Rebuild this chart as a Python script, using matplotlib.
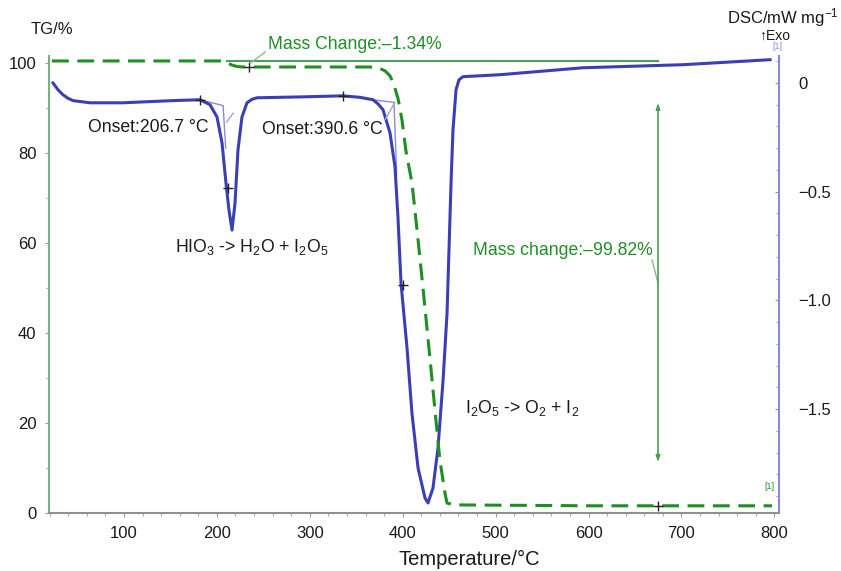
import numpy as np
import matplotlib
matplotlib.use('Agg')
import matplotlib.pyplot as plt
from matplotlib.ticker import MultipleLocator

plt.rcParams['font.family'] = ['Liberation Sans', 'DejaVu Sans']
plt.rcParams['mathtext.fontset'] = 'custom'
plt.rcParams['mathtext.rm'] = 'Liberation Sans'
plt.rcParams['mathtext.it'] = 'Liberation Sans:italic'
plt.rcParams['mathtext.bf'] = 'Liberation Sans:bold'

# DSC curve (temperature in degC, DSC in mW/mg)
dsc_temp = [23.6, 29.0, 34.3, 39.7, 45.1, 63.4, 98.9, 152.7, 181.8, 192.6, 200.1, 205.5,
            209.8, 213.0, 216.3, 219.5, 222.7, 227.0, 232.4, 237.8, 243.2, 289.5, 335.7,
            354.0, 368.0, 373.4, 378.8, 386.3, 391.7, 394.9, 398.2, 404.6, 410.0, 416.5,
            424.0, 427.2, 432.6, 438.0, 443.4, 447.7, 449.8, 452.0, 454.1, 457.4, 460.6,
            464.9, 504.7, 594.1, 701.7, 795.4]
dsc_vals = [-0.001, -0.032, -0.055, -0.071, -0.082, -0.092, -0.092, -0.082, -0.078, -0.101,
            -0.157, -0.276, -0.461, -0.585, -0.677, -0.553, -0.309, -0.157, -0.092, -0.076,
            -0.069, -0.065, -0.060, -0.067, -0.078, -0.097, -0.124, -0.230, -0.387, -0.618,
            -0.922, -1.217, -1.521, -1.770, -1.908, -1.931, -1.862, -1.677, -1.369, -1.060,
            -0.770, -0.461, -0.217, -0.032, 0.014, 0.028, 0.037, 0.069, 0.083, 0.106]

# TG curve (temperature in degC, mass in %)
tg_temp = [22.5, 205.0, 210.0, 216.0, 222.0, 228.0, 364.8, 373.4, 381.0, 386.3, 390.6,
           395.0, 399.2, 403.5, 410.0, 416.5, 422.0, 429.5, 435.0, 440.0, 445.5, 447.7,
           456.0, 600.0, 797.5]
tg_vals = [100.4, 100.4, 100.1, 99.5, 99.15, 99.06, 99.06, 98.9, 98.2, 97.1, 95.1,
           92.0, 87.3, 80.4, 73.3, 60.7, 49.6, 34.0, 22.2, 11.8, 4.4, 2.2,
           1.8, 1.6, 1.6]

# markers
dsc_mark_t = [181.8, 212.0, 335.7, 400.3]
dsc_mark_v = [-0.078, -0.484, -0.060, -0.93]
tg_mark_t = [234.5, 674.8]
tg_mark_v = [99.06, 1.6]

# construction (tangent) lines for onsets
onset1_t = [181.8, 206.7, 209.5]
onset1_v = [-0.078, -0.105, -0.30]
onset2_t = [368.0, 390.6, 393.5]
onset2_v = [-0.078, -0.090, -0.42]

blue = '#3a40b4'
green = '#1f8f24'
lgreen = '#4a9f55'
purple = '#8a8ad8'
ink = '#1a1a1a'

fig = plt.figure(figsize=(8.41, 5.71), dpi=100)
ax = fig.add_axes([49/841, 1-513/571, (779-49)/841, (513-56)/571])
ax2 = ax.twinx()
ax.set_zorder(ax2.get_zorder() + 1)
ax.patch.set_visible(False)

ax.set_xlim(19.3, 805)
ax.set_ylim(0, 101.5)
ax2.set_ylim(-1.977, 0.123)

# DSC
ax2.plot(onset1_t, onset1_v, color=purple, lw=1)
ax2.plot(onset2_t, onset2_v, color=purple, lw=1)
ax2.plot(dsc_temp, dsc_vals, color=blue, lw=2.2)
ax2.plot(dsc_mark_t, dsc_mark_v, '+', color='#222222', ms=7, mew=1)
ax2.plot([210.5, 217.5], [-0.18, -0.14], color='#a0a0d8', lw=1)
ax2.plot([381, 391.5], [-0.17, -0.09], color='#a0a0d8', lw=1)

# TG
ax.plot(tg_temp, tg_vals, color=green, lw=2.2, ls=(0, (5.5, 2.8)))
ax.plot(tg_mark_t, tg_mark_v, '+', color='#222222', ms=7, mew=1)
ax.plot([210.9, 674.8], [100.5, 100.5], color=lgreen, lw=1.5)
ax.annotate('', xy=(674.8, 91.1), xytext=(674.8, 11.3),
            arrowprops=dict(arrowstyle='<|-|>,head_length=0.35,head_width=0.12',
                            color=lgreen, lw=1.2, shrinkA=0, shrinkB=0))
ax.plot([252, 236], [102.4, 99.9], color='#8fb894', lw=1, clip_on=False)
ax.plot([668.3, 674.8], [56.2, 51.1], color='#8fb894', lw=1)

fs = 12.7
ax.text(61.2, 85.6, 'Onset:206.7 °C', fontsize=fs, ha='left', va='center', color=ink)
ax.text(248.5, 85.1, 'Onset:390.6 °C', fontsize=fs, ha='left', va='center', color=ink)
ax.text(155, 59.1, r'HIO$_3$ -> H$_2$O + I$_2$O$_5$', fontsize=fs, ha='left', va='center', color=ink)
ax.text(467, 23.3, r'I$_2$O$_5$ -> O$_2$ + I$_2$', fontsize=fs, ha='left', va='center', color=ink)
ax.text(475.7, 58.4, 'Mass change:\u201399.82%', fontsize=fs, ha='left', va='center', color=green)
ax.text(255, 104, 'Mass Change:\u20131.34%', fontsize=fs, ha='left', va='center', color=green, clip_on=False)
ax.text(802.9, 103.6, '[1]', fontsize=6.5, ha='center', va='center', color=purple, clip_on=False)
ax.text(794.3, 5.8, '[1]', fontsize=6.5, ha='center', va='center', color=green)

# axes styling
ax.spines['top'].set_visible(False)
ax2.spines['top'].set_visible(False)
ax.spines['left'].set_color('#78b088')
ax.spines['left'].set_linewidth(1.5)
ax.spines['bottom'].set_color('#909090')
ax.spines['bottom'].set_linewidth(1.5)
ax.spines['right'].set_visible(False)
ax2.spines['left'].set_visible(False)
ax2.spines['bottom'].set_visible(False)
ax2.spines['right'].set_color(purple)
ax2.spines['right'].set_linewidth(1.5)

ax.xaxis.set_major_locator(MultipleLocator(100))
ax.xaxis.set_minor_locator(MultipleLocator(20))
ax.yaxis.set_major_locator(MultipleLocator(20))
ax.yaxis.set_minor_locator(MultipleLocator(10))
ax2.yaxis.set_major_locator(MultipleLocator(0.5))
ax2.yaxis.set_minor_locator(MultipleLocator(0.1))
ax2.yaxis.set_major_formatter(plt.FuncFormatter(lambda v, p: '0' if abs(v) < 1e-9 else f'{v:.1f}'.replace('-', '\u2212')))

ax.tick_params(axis='both', which='both', colors='#999999', labelcolor=ink, labelsize=12)
ax.tick_params(axis='both', which='major', length=3, pad=6)
ax.tick_params(axis='both', which='minor', length=2)
ax2.tick_params(axis='y', which='both', colors=purple, labelcolor=ink, labelsize=12,
                direction='in')
ax2.tick_params(axis='y', which='major', length=3, pad=14)
ax2.tick_params(axis='y', which='minor', length=2)

fig.text(469/841, 1-559/571, 'Temperature/°C', fontsize=14.5, ha='center', va='center', color=ink)
fig.text(52/841, 1-30/571, 'TG/%', fontsize=12, ha='center', va='center', color=ink)
fig.text(839/841, 1-18/571, r'DSC/mW mg$^{-1}$', fontsize=12, ha='right', va='center', color=ink)
fig.text(775/841, 1-36/571, '\u2191Exo', fontsize=10, ha='center', va='center', color=ink)

fig.savefig('out.png', dpi=100)
